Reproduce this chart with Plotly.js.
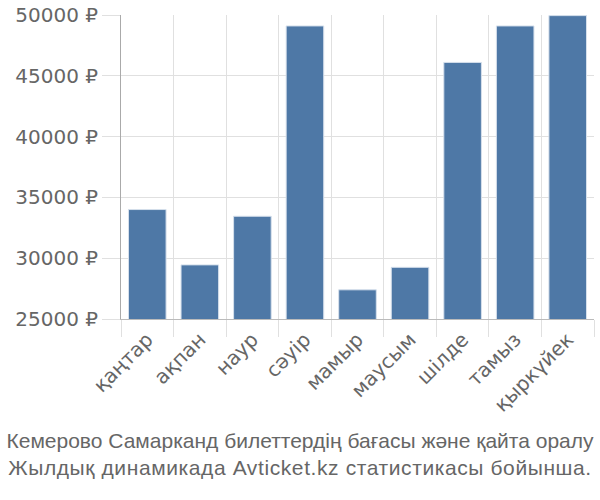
<!DOCTYPE html>
<html>
<head>
<meta charset="utf-8">
<script src="https://cdn.plot.ly/plotly-3.0.1.min.js"></script>
<style>html,body{margin:0;padding:0;background:#fff;}#chart{width:600px;height:500px;}</style>
</head>
<body>
<div id="chart"></div>
<script>
const months = ["қаңтар", "ақпан", "наур", "сәуір", "мамыр", "маусым", "шілде", "тамыз", "қыркүйек"];
const prices = [34000, 29450, 33450, 49100, 27400, 29250, 46100, 49100, 49950];
const yTicks = [25000, 30000, 35000, 40000, 45000, 50000];
const yTickLabels = ["25000 ₽", "30000 ₽", "35000 ₽", "40000 ₽", "45000 ₽", "50000 ₽"];
const titleLines = ["Кемерово Самарканд билеттердің бағасы және қайта оралу", "Жылдық динамикада Avticket.kz статистикасы бойынша."];

const trace = {
  type: "bar",
  x: months,
  y: prices,
  marker: {color: "#4e78a6", line: {color: "#d6e0ec", width: 1}},
  hoverinfo: "none"
};

const layout = {
  width: 600, height: 500,
  margin: {l: 121, r: 6, t: 15, b: 181},
  paper_bgcolor: "#fff", plot_bgcolor: "#fff",
  font: {family: "Liberation Sans, Arial, sans-serif", color: "#666", size: 20},
  bargap: 0.285,
  showlegend: false,
  xaxis: {
    type: "category",
    tickson: "boundaries",
    showgrid: true, gridcolor: "#e0e0e0", gridwidth: 1,
    ticks: "outside", ticklen: 17, tickcolor: "#e0e0e0",
    showline: true, linecolor: "#bbb", linewidth: 1,
    tickangle: -45,
    tickfont: {family: "DejaVu Sans, sans-serif", size: 20, color: "#666"}
  },
  yaxis: {
    range: [25000, 50000],
    tickmode: "array",
    tickvals: yTicks,
    ticktext: yTickLabels,
    showgrid: true, gridcolor: "#e0e0e0", gridwidth: 1,
    ticks: "outside", ticklen: 18, tickcolor: "#e0e0e0",
    showline: true, linecolor: "#aaa", linewidth: 1,
    zeroline: false,
    tickfont: {family: "DejaVu Sans, sans-serif", size: 20, color: "#666"}
  },
  title: {
    text: titleLines[0] + "<br><span style=\"letter-spacing:0.6px\">" + titleLines[1] + "</span>",
    xref: "container", x: 0.5, xanchor: "center",
    yref: "container", y: 0.105, yanchor: "top",
    font: {size: 21, color: "#666"}
  }
};

Plotly.newPlot("chart", [trace], layout, {staticPlot: true, displayModeBar: false});
</script>
</body>
</html>
